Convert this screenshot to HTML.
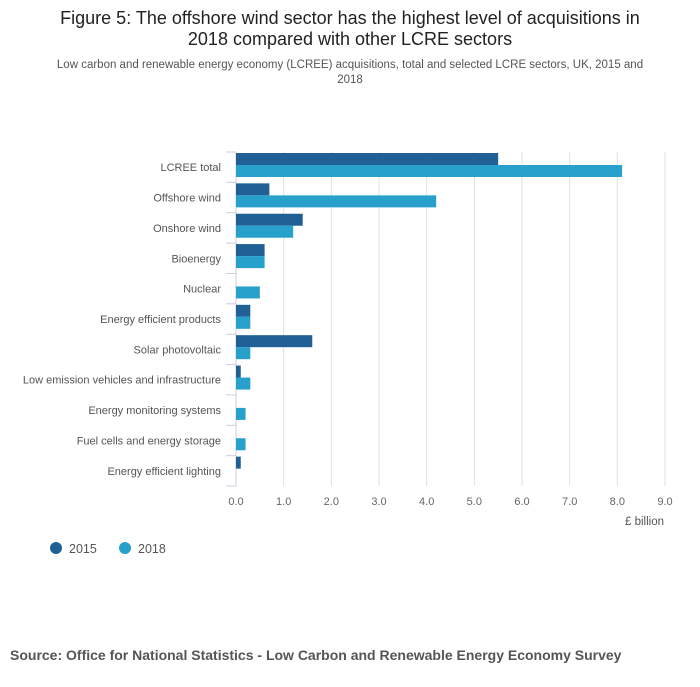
<!DOCTYPE html>
<html><head><meta charset="utf-8">
<style>
body{margin:0;background:#fff;width:700px;height:682px;overflow:hidden;font-family:"Liberation Sans",sans-serif;}
</style></head>
<body>
<svg id="chart" width="700" height="682" xmlns="http://www.w3.org/2000/svg" font-family="Liberation Sans, sans-serif">
<text x="350" y="24" text-anchor="middle" font-size="18" fill="#222">Figure 5: The offshore wind sector has the highest level of acquisitions in</text>
<text x="350" y="45" text-anchor="middle" font-size="18" fill="#222">2018 compared with other LCRE sectors</text>
<text x="350" y="68" text-anchor="middle" font-size="11.5" fill="#555">Low carbon and renewable energy economy (LCREE) acquisitions, total and selected LCRE sectors, UK, 2015 and</text>
<text x="350" y="83" text-anchor="middle" font-size="11.5" fill="#555">2018</text>
<g id="grid"></g><g id="bars"></g><g id="labels"></g>
<text x="664" y="525" text-anchor="end" font-size="11.5" fill="#555">£ billion</text>
<circle cx="56" cy="548" r="6" fill="#206095"/>
<text x="69" y="553" font-size="12.5" fill="#555">2015</text>
<circle cx="125" cy="548" r="6" fill="#27a0cc"/>
<text x="138" y="553" font-size="12.5" fill="#555">2018</text>
<text x="10" y="660" font-size="14" font-weight="bold" fill="#555">Source: Office for National Statistics - Low Carbon and Renewable Energy Economy Survey</text>
</svg>
<script>
const categories=["LCREE total","Offshore wind","Onshore wind","Bioenergy","Nuclear","Energy efficient products","Solar photovoltaic","Low emission vehicles and infrastructure","Energy monitoring systems","Fuel cells and energy storage","Energy efficient lighting"];
const values2015=[5.5,0.7,1.4,0.6,0,0.3,1.6,0.1,0,0,0.1];
const values2018=[8.1,4.2,1.2,0.6,0.5,0.3,0.3,0.3,0.2,0.2,0];
const ticks=[0,1,2,3,4,5,6,7,8,9];
const NS="http://www.w3.org/2000/svg";
const x0=236,x1=665,yTop=152,yBot=486;
const xs=v=>x0+(x1-x0)*v/9;
const band=(yBot-yTop)/categories.length;
const g=document.getElementById('grid'),b=document.getElementById('bars'),l=document.getElementById('labels');
function mk(tag,attrs,parent){const e=document.createElementNS(NS,tag);for(const k in attrs)e.setAttribute(k,attrs[k]);parent.appendChild(e);return e;}
ticks.forEach(t=>{
 if(t>0){const ln=mk('line',{x1:xs(t),x2:xs(t),y1:yTop,y2:yBot,stroke:'#e0e0e0'},g);
 
 }
 const tx=mk('text',{x:xs(t),y:505,'text-anchor':'middle','font-size':11,fill:'#666'},l);
 tx.textContent=t.toFixed(1);
 
 
});
const ax=mk('line',{x1:x0,x2:x0,y1:yTop,y2:yBot,stroke:'#ccd'},g);


for(let i=0;i<=categories.length;i++){const tk=mk('line',{x1:x0-10,x2:x0,y1:yTop+i*band,y2:yTop+i*band,stroke:'#ccd'},g);
 
 }
categories.forEach((c,i)=>{
 const y=yTop+i*band;
 const r1=mk('rect',{x:x0,y:y+1,width:xs(values2015[i])-x0,height:12,fill:'#206095'},b);
 
 
 const r2=mk('rect',{x:x0,y:y+13,width:xs(values2018[i])-x0,height:12,fill:'#27a0cc'},b);
 
 
 const t=mk('text',{x:221,y:y+band/2+4,'text-anchor':'end','font-size':11,fill:'#555'},l);
 t.textContent=c;
 
 
});
</script>
</body></html>
